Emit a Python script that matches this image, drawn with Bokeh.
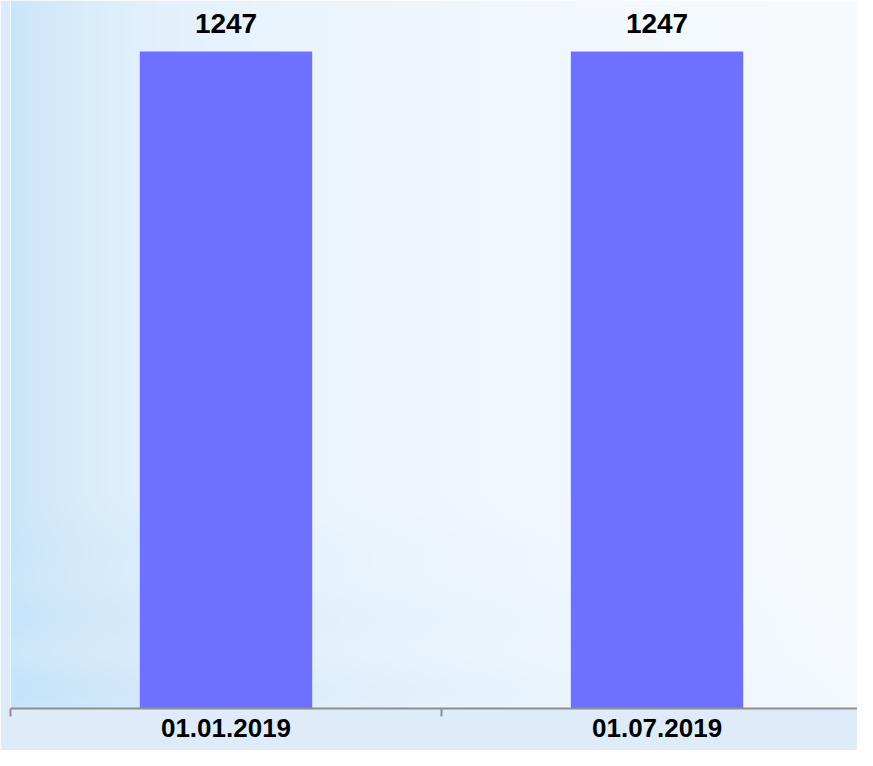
import numpy as np
from bokeh.plotting import figure
from bokeh.models import Range1d, FixedTicker, LabelSet, ColumnDataSource
from bokeh.core.properties import value
from bokeh.embed import file_html
from bokeh.resources import INLINE

# ---- data ----
categories = ["01.01.2019", "01.07.2019"]
values = [1247, 1247]
value_labels = ["1247", "1247"]

xpos = [i + 0.5 for i in range(len(categories))]
bounds = [float(i) for i in range(len(categories) + 1)]

X_END = 1.965
Y_END = 1344

p = figure(width=857, height=750, output_backend="svg", toolbar_location=None,
           x_range=Range1d(0, X_END), y_range=Range1d(0, Y_END),
           min_border_left=10, min_border_right=0, min_border_top=0, min_border_bottom=42)
p.outline_line_color = None
p.xgrid.visible = False
p.ygrid.visible = False
p.yaxis.visible = False
p.border_fill_color = "#deecfa"

# ---- decorative background gradient ----
FW = 847
W, H = 212, 180
px = np.linspace(0, FW, W)
fy = np.linspace(0, 1, H)  # 0 = bottom of frame
blue = np.array([198, 227, 249], dtype=float)
white = np.array([248, 251, 254], dtype=float)
scale = 130 + 260 * np.clip((0.3 - fy) / 0.3, 0, 1)          # wider blue at bottom
w = 0.65 * np.exp(-(px[None, :] + 10) / scale[:, None]) + 0.3 * (1 - px[None, :] / FW) ** 0.9
bands = 0.08 * np.sin(fy * 60)[:, None] * np.clip((0.3 - fy) / 0.3, 0, 1)[:, None] * (1 - px[None, :] / FW)
w = np.clip(w + bands, 0, 1)
img = white[None, None, :] + (blue - white)[None, None, :] * w[:, :, None]
img = np.clip(img, 0, 255).astype(np.uint32)
rgba = (255 << 24) | (img[:, :, 2] << 16) | (img[:, :, 1] << 8) | img[:, :, 0]
p.image_rgba(image=[rgba.astype(np.uint32)], x=0, y=0, dw=X_END, dh=Y_END, level="image")

# ---- bars ----
src = ColumnDataSource(dict(x=xpos, top=values, lab=value_labels))
p.vbar(x="x", top="top", width=0.4, source=src, fill_color="#6e71ff", line_color=None)

labels = LabelSet(x="x", y="top", text="lab", source=src, y_offset=19,
                  text_align="center", text_baseline="bottom",
                  text_font=value("Liberation Sans"), text_font_style="bold",
                  text_font_size="28px", text_color="#000000")
p.add_layout(labels)

# ---- x axis ----
ax = p.xaxis[0]
ax.ticker = FixedTicker(ticks=xpos, minor_ticks=bounds)
ax.major_label_overrides = {xpos[i]: categories[i] for i in range(len(categories))}
ax.major_tick_in = 0
ax.major_tick_out = 0
ax.minor_tick_in = 0
ax.minor_tick_out = 8
ax.axis_line_color = "#8e8e8e"
ax.minor_tick_line_color = "#8e8e8e"
ax.axis_line_width = 2
ax.minor_tick_line_width = 2
ax.major_label_standoff = 2
ax.major_label_text_font = "Liberation Sans"
ax.major_label_text_font_style = "bold"
ax.major_label_text_font_size = "26px"
ax.major_label_text_color = "#000000"

open("out.html", "w").write(file_html(p, INLINE))
